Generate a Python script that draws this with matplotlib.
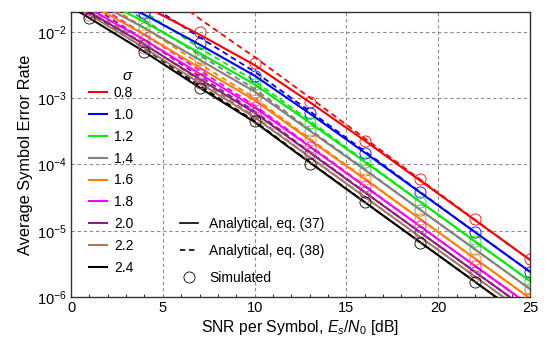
import matplotlib
matplotlib.use("Agg")
import matplotlib.pyplot as plt
import numpy as np
from matplotlib.lines import Line2D
from matplotlib.ticker import FixedLocator, LogLocator, NullLocator

plt.rcParams['font.family'] = ['Liberation Sans', 'DejaVu Sans']
plt.rcParams['mathtext.fontset'] = 'custom'
plt.rcParams['mathtext.rm'] = 'Liberation Sans'
plt.rcParams['mathtext.it'] = 'Liberation Sans:italic'

# SNR grid (dB) for the analytical curves; simulated points at 1,4,...,25
snr = [0, 1, 4, 7, 10, 13, 16, 19, 22, 25]
snr_sim = [1, 4, 7, 10, 13, 16, 19, 22, 25]

sigmas = ['0.8', '1.0', '1.2', '1.4', '1.6', '1.8', '2.0', '2.2', '2.4']
colors = ['#ff0000', '#0000ff', '#00ee00', '#808080', '#ff8000',
          '#ff00ff', '#8b1a8b', '#a57d5a', '#000000']

# log10(SER), analytical eq. (37) (solid)
eq37_log10 = [
    [-1.11, -1.23, -1.61, -2.04, -2.50, -3.06, -3.64, -4.24, -4.84, -5.44],
    [-1.21, -1.34, -1.74, -2.19, -2.66, -3.23, -3.82, -4.42, -5.02, -5.62],
    [-1.28, -1.42, -1.85, -2.32, -2.79, -3.37, -3.96, -4.56, -5.16, -5.76],
    [-1.35, -1.50, -1.94, -2.42, -2.90, -3.49, -4.08, -4.68, -5.28, -5.88],
    [-1.43, -1.58, -2.04, -2.54, -3.03, -3.63, -4.22, -4.82, -5.42, -6.02],
    [-1.49, -1.65, -2.12, -2.63, -3.14, -3.73, -4.33, -4.93, -5.53, -6.13],
    [-1.54, -1.70, -2.19, -2.71, -3.22, -3.82, -4.42, -5.02, -5.62, -6.22],
    [-1.58, -1.74, -2.24, -2.77, -3.29, -3.89, -4.49, -5.09, -5.69, -6.29],
    [-1.62, -1.79, -2.30, -2.84, -3.36, -3.97, -4.57, -5.17, -5.77, -6.37],
]

# log10(SER), analytical eq. (38) (dashed)
eq38_log10 = [
    [-0.21, -0.48, -1.16, -1.80, -2.38, -2.99, -3.605, -4.225, -4.835, -5.44],
    [-0.81, -0.99, -1.54, -2.08, -2.60, -3.195, -3.80, -4.412, -5.02, -5.62],
    [-0.98, -1.16, -1.70, -2.24, -2.74, -3.34, -3.945, -4.555, -5.16, -5.76],
    [-1.13, -1.30, -1.82, -2.35, -2.86, -3.47, -4.07, -4.68, -5.28, -5.88],
    [-1.25, -1.42, -1.94, -2.48, -2.995, -3.61, -4.21, -4.82, -5.42, -6.02],
    [-1.34, -1.52, -2.04, -2.58, -3.11, -3.715, -4.322, -4.93, -5.53, -6.13],
    [-1.42, -1.59, -2.12, -2.67, -3.195, -3.808, -4.415, -5.02, -5.62, -6.22],
    [-1.48, -1.65, -2.18, -2.735, -3.27, -3.88, -4.485, -5.09, -5.69, -6.29],
    [-1.54, -1.72, -2.25, -2.81, -3.345, -3.962, -4.567, -5.17, -5.77, -6.37],
]

# log10(SER), simulated points at snr_sim
sim_log10 = [
    [-1.23, -1.61, -2.00, -2.47, -3.06, -3.65, -4.22, -4.82, -5.43],
    [-1.34, -1.72, -2.17, -2.66, -3.22, -3.82, -4.42, -5.02, -5.62],
    [-1.42, -1.85, -2.32, -2.79, -3.37, -3.96, -4.56, -5.16, -5.76],
    [-1.50, -1.94, -2.42, -2.90, -3.49, -4.08, -4.68, -5.28, -5.88],
    [-1.58, -2.04, -2.54, -3.03, -3.63, -4.22, -4.82, -5.42, -6.02],
    [-1.65, -2.12, -2.63, -3.14, -3.73, -4.33, -4.93, -5.53, -6.13],
    [-1.70, -2.19, -2.71, -3.22, -3.82, -4.42, -5.02, -5.62, -6.22],
    [-1.74, -2.24, -2.77, -3.29, -3.89, -4.49, -5.09, -5.69, -6.29],
    [-1.79, -2.30, -2.84, -3.34, -3.99, -4.57, -5.18, -5.77, -6.37],
]

fig = plt.figure(figsize=(5.46, 3.37), dpi=100)
ax = fig.add_axes([71/546, 1-297/337, (530-71)/546, (297-12)/337])

for i in range(len(sigmas)):
    c = colors[i]
    ax.plot(snr, 10.0**np.array(eq38_log10[i]), color=c, lw=1.3,
            linestyle=(0, (3.2, 2.2)), zorder=3)
    ax.plot(snr, 10.0**np.array(eq37_log10[i]), color=c, lw=1.5, zorder=4)
    ax.plot(snr_sim, 10.0**np.array(sim_log10[i]), linestyle='none', marker='o',
            ms=8, mfc='none', mec=c, mew=0.6, zorder=5)

ax.set_yscale('log')
ax.set_xlim(0, 25)
ax.set_ylim(1e-6, 2e-2)
ax.xaxis.set_major_locator(FixedLocator([0, 5, 10, 15, 20, 25]))
ax.xaxis.set_minor_locator(FixedLocator(np.arange(0, 26, 1)))
ax.yaxis.set_major_locator(LogLocator(base=10, numticks=10))
ax.yaxis.set_minor_locator(NullLocator())
ax.tick_params(axis='both', which='major', direction='in', length=0, labelsize=10.5, pad=3)
ax.tick_params(axis='x', which='minor', direction='in', length=2.5, width=0.6)
ax.tick_params(axis='y', which='minor', length=0)
ax.grid(True, which='major', color='#8c8c8c', linestyle=(0, (3, 2.5)), lw=0.8)
for s in ax.spines.values():
    s.set_color('#333333')
    s.set_linewidth(1.0)

ax.set_xlabel(r'SNR per Symbol, $E_s/N_0$ [dB]', fontsize=11.3, labelpad=2)
ax.set_ylabel('Average Symbol Error Rate', fontsize=11.8, labelpad=3)

h1 = [Line2D([], [], color=c, lw=1.5) for c in colors]
leg1 = ax.legend(h1, sigmas, title=r'$\sigma$', loc='upper left',
                 bbox_to_anchor=(89/546, 1-69/337), bbox_transform=fig.transFigure,
                 frameon=False, fontsize=10, title_fontsize=11, handlelength=1.3,
                 handletextpad=0.5, labelspacing=0.57, borderpad=0, borderaxespad=0,
                 alignment='right')
leg1._legend_box.sep = 2
ax.add_artist(leg1)

h2 = [Line2D([], [], color='k', lw=1.2),
      Line2D([], [], color='k', lw=1.2, linestyle=(0, (3.2, 2.2))),
      Line2D([], [], color='k', linestyle='none', marker='o', ms=8, mfc='none', mew=0.6)]
l2 = ['Analytical, eq. (37)', 'Analytical, eq. (38)', 'Simulated']
ax.legend(h2, l2, loc='upper left', bbox_to_anchor=(180/546, 1-217/337),
          bbox_transform=fig.transFigure, frameon=False, fontsize=10,
          handlelength=1.3, handletextpad=0.8, labelspacing=0.93, borderpad=0,
          borderaxespad=0)

fig.savefig('out.png', dpi=100)
